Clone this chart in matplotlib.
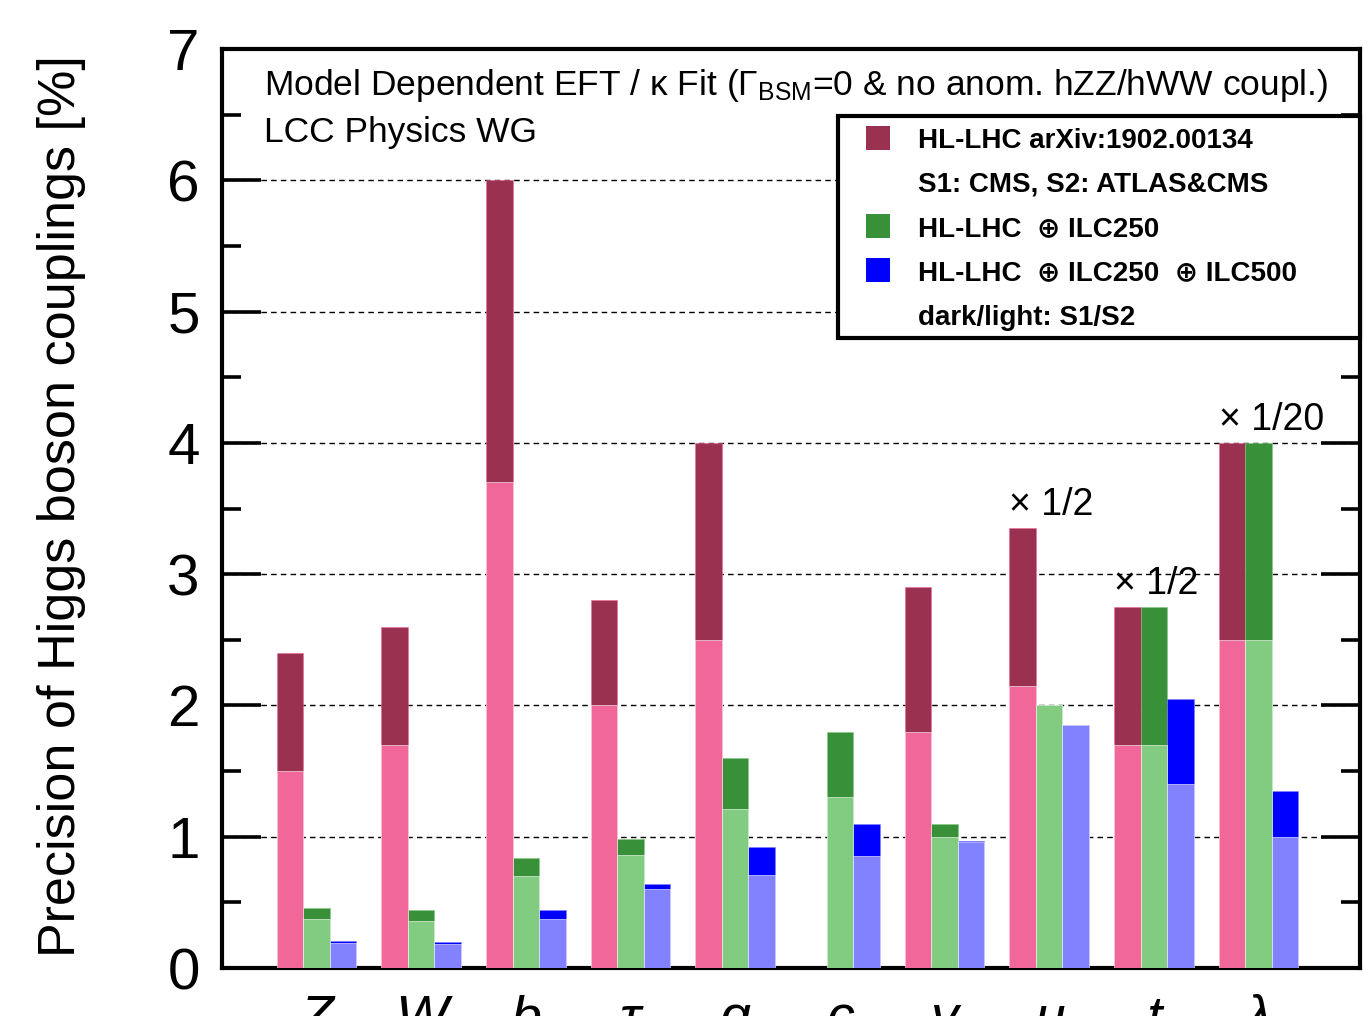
import numpy as np
import matplotlib
matplotlib.use("Agg")
import matplotlib.pyplot as plt
from matplotlib.patches import Rectangle
from matplotlib import font_manager

# ---- data -------------------------------------------------------------
couplings = ["Z", "W", "b", "τ", "g", "c", "γ", "μ", "t", "λ"]
# display scale applied to each coupling (shown as "× 1/n" labels)
display_scale = [1, 1, 1, 1, 1, 1, 1, 0.5, 0.5, 0.05]
scale_labels = ["", "", "", "", "", "", "", "× 1/2", "× 1/2", "× 1/20"]

# precision in %, S1 (dark) and S2 (light)
hllhc_s1 = [2.40, 2.60, 6.00, 2.80, 4.00, np.nan, 2.90, 6.70, 5.50, 80.0]
hllhc_s2 = [1.50, 1.70, 3.70, 2.00, 2.50, np.nan, 1.80, 4.30, 3.40, 50.0]
ilc250_s1 = [0.46, 0.44, 0.84, 0.98, 1.60, 1.80, 1.10, 4.00, 5.50, 80.0]
ilc250_s2 = [0.37, 0.36, 0.70, 0.86, 1.21, 1.30, 1.00, 4.00, 3.40, 50.0]
ilc500_s1 = [0.205, 0.195, 0.44, 0.64, 0.92, 1.10, 0.97, 3.70, 4.10, 27.0]
ilc500_s2 = [0.19, 0.185, 0.37, 0.60, 0.71, 0.85, 0.96, 3.70, 2.80, 20.0]

legend_labels = ["HL-LHC arXiv:1902.00134",
                 "S1: CMS, S2: ATLAS&CMS",
                 "HL-LHC  ⊕ ILC250",
                 "HL-LHC  ⊕ ILC250  ⊕ ILC500",
                 "dark/light: S1/S2"]

# ---- style -------------------------------------------------------------
names = {f.name for f in font_manager.fontManager.ttflist}
base = "Liberation Sans"
narrow = "Liberation Sans Narrow" if "Liberation Sans Narrow" in names else base
head_size = 29 if narrow != base else 25.5
plt.rcParams["font.family"] = [base, "DejaVu Sans"]
plt.rcParams["mathtext.fontset"] = "custom"
plt.rcParams["mathtext.rm"] = base
plt.rcParams["mathtext.it"] = base + ":italic"

dark = ["#9a3150", "#389138", "#0000ff"]
light = ["#f2679a", "#82cc82", "#8282ff"]

W_PX, H_PX = 1364, 1016
fig = plt.figure(figsize=(W_PX / 100, H_PX / 100), dpi=100)
ax_l, ax_r, ax_t, ax_b = 222, 1360, 49, 968
ax = fig.add_axes([ax_l / W_PX, 1 - ax_b / H_PX,
                   (ax_r - ax_l) / W_PX, (ax_b - ax_t) / H_PX])

x = np.arange(len(couplings))
bw = 0.253
sc = np.array(display_scale)
series = [(hllhc_s1, hllhc_s2), (ilc250_s1, ilc250_s2), (ilc500_s1, ilc500_s2)]
for k, (s1, s2) in enumerate(series):
    xs = x + (k - 1) * bw
    ax.bar(xs, np.array(s1) * sc, width=bw, color=dark[k], zorder=2,
           edgecolor=light[k], linewidth=0.4)
    ax.bar(xs, np.array(s2) * sc, width=bw, color=light[k], zorder=3,
           edgecolor="white", linewidth=0.4)

# scale annotations above the scaled groups
for i, lab in enumerate(scale_labels):
    if lab:
        top = np.nanmax([hllhc_s1[i], ilc250_s1[i], ilc500_s1[i]]) * sc[i]
        ax.text(x[i] - 1.5 * bw, top + 0.1, lab, fontsize=27,
                ha="left", va="baseline", zorder=5)

ax.set_xlim(-0.903, 9.97)
ax.set_ylim(0, 7)
ax.set_yticks(range(0, 8))
ax.set_yticks(np.arange(0.5, 7, 1.0), minor=True)
ax.set_xticks(x)
ax.set_xticklabels(couplings, fontsize=40, style="italic")
ax.tick_params(axis="x", length=0, pad=19)
ax.tick_params(axis="y", which="both", direction="in", left=True, right=True,
               width=2.6, labelsize=42, pad=16)
ax.tick_params(axis="y", which="major", length=28)
ax.tick_params(axis="y", which="minor", length=14)
for s in ax.spines.values():
    s.set_linewidth(3.0)
ax.yaxis.grid(True, which="major", linestyle=(0, (4, 3)), color="black",
              linewidth=1.0, zorder=1)
ax.set_axisbelow(True)

fig.text(62 / W_PX, 1 - 506 / H_PX, "Precision of Higgs boson couplings [%]",
         rotation=90, ha="center", va="center", fontsize=37.5)

# header texts (axes pixel helper)
def axf(px, py):
    return (px - ax_l) / (ax_r - ax_l), (ax_b - py) / (ax_b - ax_t)

ax.text(*axf(264, 95),
        r"Model Dependent EFT / κ Fit ($\Gamma_{\rm BSM}$=0 & no anom. hZZ/hWW coupl.)",
        transform=ax.transAxes, family=narrow, fontsize=head_size,
        va="baseline", zorder=6)
ax.text(*axf(264, 142), "LCC Physics WG", transform=ax.transAxes,
        family=narrow, fontsize=head_size, va="baseline", zorder=6)

# legend box
x0, y0 = axf(838, 338)
x1, y1 = axf(1360, 116)
ax.add_patch(Rectangle((x0, y0), x1 - x0, y1 - y0, transform=ax.transAxes,
                       facecolor="white", edgecolor="black", linewidth=3.0,
                       zorder=7, clip_on=False))
rows = [138, 181, 226, 270, 315]
swatch = [dark[0], None, dark[1], dark[2], None]
for r, lab, col in zip(rows, legend_labels, swatch):
    if col:
        sx0, sy0 = axf(866, r + 12)
        sx1, sy1 = axf(890, r - 12)
        ax.add_patch(Rectangle((sx0, sy0), sx1 - sx0, sy1 - sy0,
                               transform=ax.transAxes, facecolor=col,
                               edgecolor="none", zorder=8, clip_on=False))
    ax.text(*axf(918, r + 10), lab, transform=ax.transAxes, fontsize=20,
            fontweight="bold", va="baseline", ha="left", zorder=8)

fig.savefig("out.png", dpi=100)
